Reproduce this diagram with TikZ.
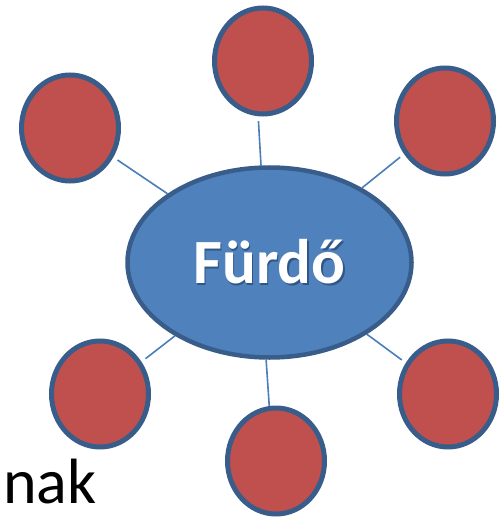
\documentclass[tikz,border=0pt]{standalone}
\usepackage{fontspec}
\setmainfont{Carlito}
\usetikzlibrary{shapes.geometric, backgrounds}

\definecolor{ringblue}{HTML}{385D8A}
\definecolor{hubfill}{HTML}{4F81BD}
\definecolor{leaffill}{HTML}{C0504D}
\definecolor{linkblue}{HTML}{4A7EBB}
\definecolor{textshade}{HTML}{2F5685}

\tikzset{
  leaf/.style={ellipse, draw=ringblue, fill=leaffill, line width=5pt,
    minimum width=97pt, minimum height=106pt, inner sep=0pt},
  hub/.style={ellipse, draw=ringblue, fill=hubfill, line width=4.5pt,
    minimum width=284pt, minimum height=190pt, inner sep=0pt},
  link/.style={draw=linkblue, line width=1.6pt, shorten <=5pt},
  caption/.style={inner sep=0pt, font=\fontsize{64}{64}\selectfont}
}

% white lettering with a soft dark drop shadow
\newcommand{\shadowword}[1]{%
  {\color{textshade}\rlap{\kern1.5pt\raisebox{-1.5pt}{#1}}}%
  {\color{white}#1}}

\begin{document}
\begin{tikzpicture}[x=1pt, y=-1pt]
  \useasboundingbox (0,0) rectangle (500,518);

  % surrounding topics
  \node[leaf] (top)   at (263,61)  {};
  \node[leaf] (tl)    at (70,128)  {};
  \node[leaf] (tr)    at (445,121) {};
  \node[leaf] (bl)    at (100,394) {};
  \node[leaf] (bm)    at (276,461) {};
  \node[leaf] (br)    at (448,394) {};

  % central topic
  \node[hub] (hub) at (269.5,262.5)
    {\fontsize{63}{63}\selectfont\bfseries\shadowword{Fürdő}};

  % connectors, kept beneath the shapes
  \begin{scope}[on background layer]
    \foreach \n in {tl, tr, bl, br}
      \draw[link] (\n) -- (hub);
    \draw[link] (top.265) -- (hub.95.6);
    \draw[link, shorten <=0pt] (hub.268.5) -- (bm.97.4);
  \end{scope}

  \node[caption, anchor=base west] (nak) at (3,503) {nak};
\end{tikzpicture}
\end{document}
